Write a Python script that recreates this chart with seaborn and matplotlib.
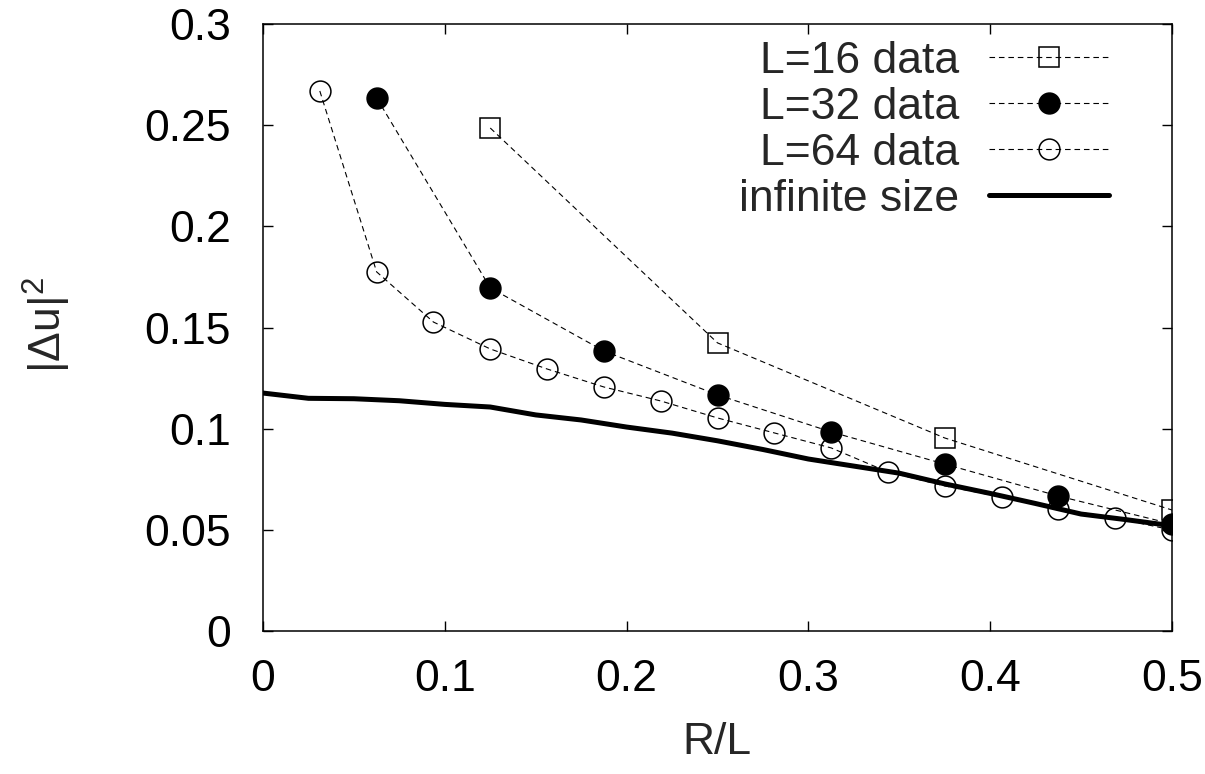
import numpy as np
import pandas as pd
import matplotlib
matplotlib.use("Agg")
import matplotlib.pyplot as plt
import seaborn as sns

# ---- data ----
x16 = [0.125, 0.25, 0.375, 0.5]
y16 = [0.2486, 0.1424, 0.0954, 0.0598]

x32 = [0.0625, 0.125, 0.1875, 0.25, 0.3125, 0.375, 0.4375, 0.5]
y32 = [0.2635, 0.1696, 0.1384, 0.1167, 0.0984, 0.0825, 0.0667, 0.0529]

x64 = [0.03125, 0.0625, 0.09375, 0.125, 0.15625, 0.1875, 0.21875, 0.25,
       0.28125, 0.3125, 0.34375, 0.375, 0.40625, 0.4375, 0.46875, 0.5]
y64 = [0.2669, 0.1775, 0.1527, 0.1394, 0.1295, 0.1206, 0.1137, 0.1053,
       0.0979, 0.0905, 0.0786, 0.0717, 0.0662, 0.0603, 0.0559, 0.0499]

xinf = [0.0, 0.025, 0.05, 0.075, 0.1, 0.125, 0.15, 0.175, 0.2, 0.225, 0.25,
        0.275, 0.3, 0.325, 0.35, 0.375, 0.4, 0.425, 0.45, 0.475, 0.5]
yinf = [0.1176, 0.1150, 0.1148, 0.1138, 0.1120, 0.1107, 0.1068, 0.1043, 0.1008,
        0.0978, 0.0940, 0.0897, 0.0850, 0.0815, 0.0780, 0.0727, 0.0680, 0.0630,
        0.0578, 0.0550, 0.0520]

labels = ["L=16 data", "L=32 data", "L=64 data", "infinite size"]
xticks = [0, 0.1, 0.2, 0.3, 0.4, 0.5]
xticklabels = ["0", "0.1", "0.2", "0.3", "0.4", "0.5"]
yticks = [0, 0.05, 0.1, 0.15, 0.2, 0.25, 0.3]
yticklabels = ["0", "0.05", "0.1", "0.15", "0.2", "0.25", "0.3"]

sns.set_style("ticks")
plt.rcParams["font.family"] = ["Liberation Sans", "DejaVu Sans"]
plt.rcParams["mathtext.fontset"] = "custom"
plt.rcParams["mathtext.rm"] = "Liberation Sans"
plt.rcParams["mathtext.it"] = "Liberation Sans"
FS = 32

fig = plt.figure(figsize=(12.05, 7.74), dpi=100)
ax = fig.add_axes([263 / 1205, 1 - 631 / 774, (1172 - 263) / 1205, (631 - 24) / 774])

dash = (0, (5, 3.5))
d16 = pd.DataFrame({"x": x16, "y": y16})
d32 = pd.DataFrame({"x": x32, "y": y32})
d64 = pd.DataFrame({"x": x64, "y": y64})
dinf = pd.DataFrame({"x": xinf, "y": yinf})

sns.lineplot(data=dinf, x="x", y="y", ax=ax, color="black", lw=3.6,
             estimator=None, sort=False, label=labels[3], zorder=2)
sns.lineplot(data=d16, x="x", y="y", ax=ax, color="black", lw=0.8, linestyle=dash,
             marker="s", markersize=15, markerfacecolor="none", markeredgecolor="black",
             markeredgewidth=1.1, estimator=None, sort=False, label=labels[0], zorder=3)
sns.lineplot(data=d32, x="x", y="y", ax=ax, color="black", lw=0.8, linestyle=dash,
             marker="o", markersize=15, markerfacecolor="black", markeredgecolor="black",
             markeredgewidth=1.1, estimator=None, sort=False, label=labels[1], zorder=3)
sns.lineplot(data=d64, x="x", y="y", ax=ax, color="black", lw=0.8, linestyle=dash,
             marker="o", markersize=15, markerfacecolor="none", markeredgecolor="black",
             markeredgewidth=1.1, estimator=None, sort=False, label=labels[2], zorder=3)

ax.set_xlim(0, 0.5)
ax.set_ylim(0, 0.3)
ax.set_xticks(xticks)
ax.set_xticklabels(xticklabels)
ax.set_yticks(yticks)
ax.set_yticklabels(yticklabels)
ax.tick_params(direction="in", length=7, width=1, top=True, right=True,
               labelsize=FS, colors="black")
ax.tick_params(axis="x", pad=20)
ax.tick_params(axis="y", pad=23)
for s in ax.spines.values():
    s.set_visible(True)
    s.set_linewidth(1.1)
    s.set_color("black")

ax.set_xlabel("R/L", fontsize=FS)
ax.set_ylabel("|Δu|$^{2}$", fontsize=FS)
ax.xaxis.label.set_verticalalignment("center")
ax.yaxis.label.set_verticalalignment("center")
ax.yaxis.label.set_horizontalalignment("center")
ax.xaxis.set_label_coords((717 - 263) / 909, -(743 - 631) / 607)
ax.yaxis.set_label_coords(-(263 - 47) / 909, (631 - 325) / 607)

h, l = ax.get_legend_handles_labels()
order = [l.index(t) for t in labels]
ax.legend([h[i] for i in order], [l[i] for i in order], loc="upper right",
          bbox_to_anchor=((1109 - 263) / 909, 0.972), frameon=False, fontsize=FS,
          markerfirst=False, handlelength=2.7, handletextpad=0.67,
          labelspacing=0.11, borderpad=0, borderaxespad=0)

fig.savefig("out.png", dpi=100)
